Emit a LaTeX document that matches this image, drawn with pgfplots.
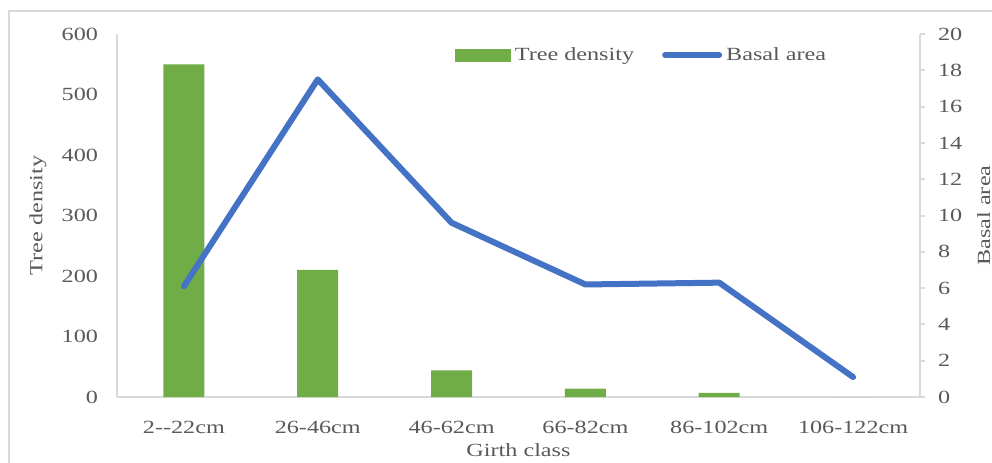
\documentclass[border=0pt]{standalone}
\usepackage{fontspec}
\setmainfont{Liberation Serif}[FakeStretch=1.3]
\usepackage{pgfplots}
\pgfplotsset{compat=1.18}

\definecolor{barGreen}{HTML}{70AD47}
\definecolor{lineBlue}{HTML}{4472C4}
\definecolor{txtGray}{HTML}{595959}
\definecolor{axGray}{HTML}{D9D9D9}

\pgfplotsset{
  girthbase/.style={
    scale only axis,
    width=401.5pt, height=181.5pt,
    at={(58.5pt,32.5pt)}, anchor=south west,
    xmin=-0.5, xmax=5.5,
    /pgf/number format/assume math mode=true,
    tick label style={text=txtGray, font=\fontsize{9.3}{11}\selectfont},
    label style={text=txtGray, font=\fontsize{9.3}{11}\selectfont},
    axis line style={draw=axGray, line width=1pt, -},
  },
}

\begin{document}
\begin{tikzpicture}
\useasboundingbox (0,0) rectangle (496pt,231pt);
% outer chart frame
\draw[axGray, line width=1pt] (4.5pt,-20pt) -- (4.5pt,225.5pt) -- (520pt,225.5pt);

% tree density (left axis)
\begin{axis}[
  girthbase,
  axis x line*=bottom, axis y line*=left,
  ymin=0, ymax=600, ytick={0,100,...,600},
  xtick={0,1,2,3,4,5},
  xticklabels={{2-{}-22cm},{26-46cm},{46-62cm},{66-82cm},{86-102cm},{106-122cm}},
  major tick length=0pt,
  xticklabel style={yshift=-8.5pt},
  yticklabel style={xshift=-6pt},
  xlabel={Girth class},
  ylabel={Tree density},
  xlabel style={at={(axis description cs:0.5,-0.146)}, anchor=center},
  ylabel style={at={(axis description cs:-0.0984,0.5)}, anchor=center},
]
\addplot[ybar, bar width=20.5pt, fill=barGreen, draw=none]
  coordinates {(0,550) (1,210) (2,44) (3,14) (4,7) (5,0)};
\end{axis}

% basal area (right axis)
\begin{axis}[
  girthbase,
  axis x line=none, axis y line*=right,
  ymin=0, ymax=20, ytick={0,2,...,20},
  tick align=outside, major tick length=2.5pt,
  ytick style={draw=axGray, line width=1pt},
  yticklabel style={xshift=3pt},
  ylabel={Basal area},
  ylabel style={at={(axis description cs:1.0795,0.5)}, anchor=center, rotate=0},
  legend columns=2,
  legend style={draw=none, fill=none, at={(axis description cs:0.413,0.942)}, anchor=west,
    font=\fontsize{9.3}{11}\selectfont, text=txtGray,
    /tikz/every even column/.append style={column sep=12pt}},
]
\addlegendimage{legend image code/.code={\fill[barGreen] (0pt,-3pt) rectangle (27.5pt,3pt);}}
\addlegendentry{Tree density}
\addplot[lineBlue, line width=3pt, line cap=round, line join=round,
  legend image code/.code={\draw[lineBlue, line width=3pt, line cap=round] (0pt,0pt) -- (27pt,0pt);}]
  coordinates {(0,6.1) (1,17.5) (2,9.6) (3,6.2) (4,6.3) (5,1.1)};
\addlegendentry{Basal area}
\end{axis}
\end{tikzpicture}
\end{document}
